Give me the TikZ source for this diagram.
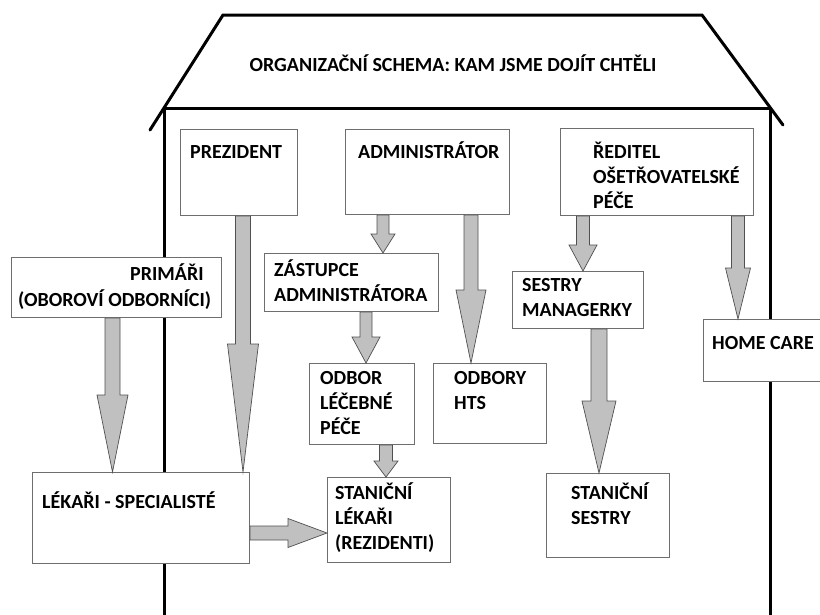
\documentclass[tikz,border=0pt]{standalone}
\usepackage{fontspec}
\setmainfont{Carlito}
\usetikzlibrary{calc}
\definecolor{arrfill}{RGB}{192,192,192}
\definecolor{arrline}{RGB}{80,80,80}
\definecolor{boxline}{RGB}{110,110,110}
\tikzset{
  house/.style={line width=3pt, black, line cap=round},
  orgbox/.style={draw=boxline, fill=white, line width=0.9pt, inner sep=0pt, anchor=north west},
  txt/.style={inner sep=0pt, anchor=base west, align=left, text=black,
              font=\bfseries\fontsize{20}{25}\selectfont},
  barrow/.style={fill=arrfill, draw=arrline, line width=0.7pt, line join=miter},
}
% vertical block arrow: x, from node, to node, shaft half width, head half width, head length
\newcommand{\varr}[6]{%
  \draw[barrow] let \p1=(#2.south), \p2=(#3.north) in
    ({(#1-#4)*1pt},\y1) -- ({(#1+#4)*1pt},\y1) -- ({(#1+#4)*1pt},{\y2+#6*1pt})
    -- ({(#1+#5)*1pt},{\y2+#6*1pt}) -- ({#1*1pt},\y2) -- ({(#1-#5)*1pt},{\y2+#6*1pt})
    -- ({(#1-#4)*1pt},{\y2+#6*1pt}) -- cycle;}
% horizontal block arrow: y, from node, to node, shaft half width, head half width, head length
\newcommand{\harr}[6]{%
  \draw[barrow] let \p1=(#2.east), \p2=(#3.west) in
    (\x1,{-(#1-#4)*1pt}) -- ({\x2-#6*1pt},{-(#1-#4)*1pt}) -- ({\x2-#6*1pt},{-(#1-#5)*1pt})
    -- (\x2,{-#1*1pt}) -- ({\x2-#6*1pt},{-(#1+#5)*1pt}) -- ({\x2-#6*1pt},{-(#1+#4)*1pt})
    -- (\x1,{-(#1+#4)*1pt}) -- cycle;}
\begin{document}
\begin{tikzpicture}[x=1pt,y=-1pt]
\useasboundingbox (0,0) rectangle (820,614);
\fill[white] (0,0) rectangle (820,614);
% house
\coordinate (rtl) at (223,15);
\coordinate (rtr) at (702,15);
\coordinate (rsl) at (150,130);
\coordinate (rsr) at (783,125);
\coordinate (el) at (164,108);
\coordinate (er) at (770,108);
\coordinate (wl) at (164,620);
\coordinate (wr) at (770,620);
\draw[house] (rsl) -- (rtl) -- (rtr) -- (rsr);
\draw[house] (el) -- (er);
\draw[house, line cap=butt] (el) -- (wl);
\draw[house, line cap=butt] (er) -- (wr);
\node[txt, anchor=base] (title) at (453,71.5) {ORGANIZAČNÍ SCHEMA: KAM JSME DOJÍT CHTĚLI};
% boxes
\node[orgbox, minimum width=117, minimum height=86] (prez) at (180,129) {};
\node[orgbox, minimum width=164, minimum height=85] (admin) at (345,129) {};
\node[orgbox, minimum width=193, minimum height=87] (red) at (560,128) {};
\node[orgbox, minimum width=210, minimum height=60] (prim) at (11,257) {};
\node[orgbox, minimum width=174, minimum height=58] (zast) at (264,253) {};
\node[orgbox, minimum width=131, minimum height=57] (sestry) at (512,271) {};
\node[orgbox, minimum width=130, minimum height=62] (home) at (703,319) {};
\node[orgbox, minimum width=105, minimum height=81] (odbor) at (309,363) {};
\node[orgbox, minimum width=113, minimum height=80] (hts) at (433,363) {};
\node[orgbox, minimum width=217, minimum height=91] (lek) at (32,472) {};
\node[orgbox, minimum width=123, minimum height=85] (stl) at (327,477) {};
\node[orgbox, minimum width=123, minimum height=84] (sts) at (546,473) {};
% texts (anchor = baseline of the last line)
\node[txt] (tprez) at (190,158.5) {PREZIDENT};
\node[txt] (tadmin) at (358,158.5) {ADMINISTRÁTOR};
\node[txt] (tred) at (593,208.5) {ŘEDITEL\\OŠETŘOVATELSKÉ\\PÉČE};
\node[txt] (tprim1) at (130,280.5) {PRIMÁŘI};
\node[txt] (tprim2) at (18,306.5) {(OBOROVÍ ODBORNÍCI)};
\node[txt] (tzast) at (274,301.5) {ZÁSTUPCE\\ADMINISTRÁTORA};
\node[txt] (tsestry) at (522,316.5) {SESTRY\\MANAGERKY};
\node[txt] (thome) at (712,349.5) {HOME CARE};
\node[txt] (todbor) at (320,434) {ODBOR\\LÉČEBNÉ\\PÉČE};
\node[txt] (thts) at (454,409.5) {ODBORY\\HTS};
\node[txt] (tlek) at (42,508.5) {LÉKAŘI - SPECIALISTÉ};
\node[txt] (tstl) at (335,549.5) {STANIČNÍ\\LÉKAŘI\\(REZIDENTI)};
\node[txt] (tsts) at (571,524.5) {STANIČNÍ\\SESTRY};
% arrows
\varr{243}{prez}{lek}{7.5}{15.5}{128}
\varr{112.5}{prim}{lek}{7.5}{15.5}{77}
\varr{383}{admin}{zast}{6}{12}{19}
\varr{471}{admin}{hts}{7}{15}{73}
\varr{583}{red}{sestry}{6.5}{14}{26}
\varr{738}{red}{home}{6.5}{12.5}{51}
\varr{366}{zast}{odbor}{6}{14}{26}
\varr{386}{odbor}{stl}{6.5}{12}{16}
\varr{599}{sestry}{sts}{8}{17}{72}
\harr{533}{lek}{stl}{7}{14.5}{39}
\end{tikzpicture}
\end{document}
